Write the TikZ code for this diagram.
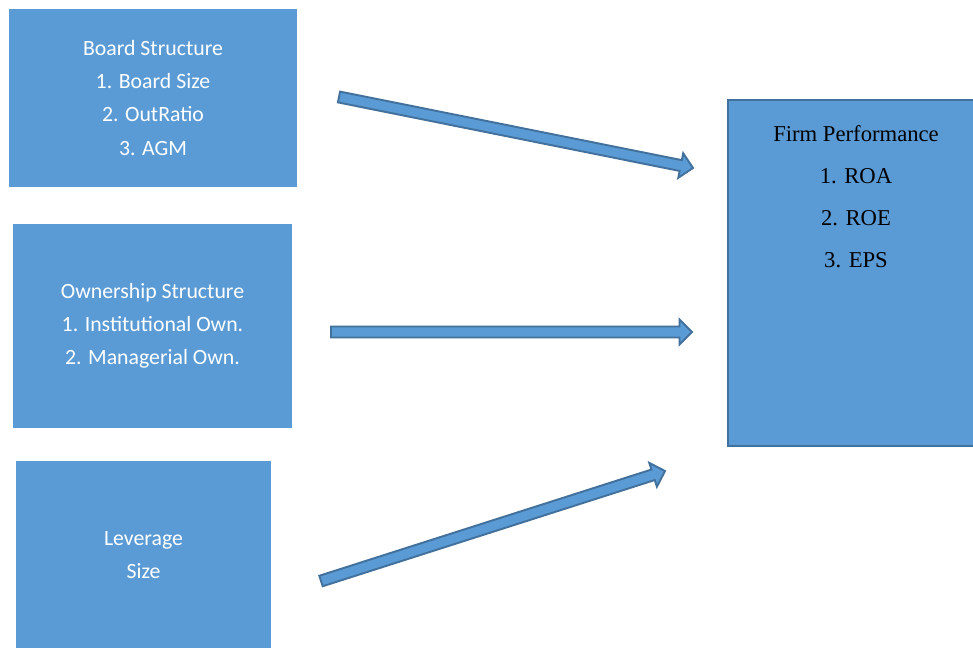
\documentclass[tikz,border=0pt]{standalone}
\usepackage{fontspec}
\setmainfont{Carlito}
\newfontfamily\timesfont{Liberation Serif}
\usetikzlibrary{calc}
\definecolor{BoxBlue}{HTML}{5B9BD5}
\definecolor{EdgeBlue}{HTML}{41719C}

\tikzset{
  inbox/.style={fill=BoxBlue, draw=none, text=white, align=center,
    font=\fontsize{12.4}{18.8}\selectfont, inner sep=0pt},
  perfbox/.style={fill=BoxBlue, draw=EdgeBlue, line width=1.4pt},
  perfline/.style={align=center, font=\timesfont\fontsize{12.9}{23.9}\selectfont,
    inner sep=0pt, anchor=north},
  arrowbody/.style={fill=BoxBlue, draw=EdgeBlue, line width=1.1pt, line join=miter}
}

% block arrow from #1 (tail) to #2 (tip)
\newcommand{\fatarrow}[2]{%
  \coordinate (hb) at ($(#2)!0.25cm!(#1)$);
  \draw[arrowbody] ($(#1)!0.11cm!90:(#2)$) -- ($(hb)!0.11cm!-90:(#1)$)
    -- ($(hb)!0.25cm!-90:(#1)$) -- (#2) -- ($(hb)!0.25cm!90:(#1)$)
    -- ($(hb)!0.11cm!90:(#1)$) -- ($(#1)!0.11cm!-90:(#2)$) -- cycle;}

\begin{document}
\begin{tikzpicture}[x=0.02cm, y=-0.02cm]
    \useasboundingbox (0,0) rectangle (973,648);
    \clip (0,0) rectangle (973,648);
    \fill[white] (0,0) rectangle (973,648);

    \node[inbox, minimum width=5.76cm, minimum height=3.58cm] (board) at (153,98)
      {Board Structure\\1. Board Size\\2. OutRatio\\3. AGM};
    \node[inbox, minimum width=5.58cm, minimum height=4.08cm] (owner) at (152.5,326)
      {Ownership Structure\\1. Institutional Own.\\2. Managerial Own.};
    \node[inbox, minimum width=5.10cm, minimum height=3.78cm] (lever) at (143.5,555)
      {Leverage\\Size};

    \node[perfbox, minimum width=5.12cm, minimum height=6.92cm] (perf) at (856,273) {};
    \node[perfline] (perftext) at (856,125)
      {Firm Performance\\1. ROA\\2. ROE\\3. EPS};

    \coordinate (boardtail) at (339,97);
    \coordinate (boardtip) at (693,168);
    \coordinate (ownertail) at (331,332);
    \coordinate (ownertip) at (692,332);
    \coordinate (levertail) at (321,581);
    \coordinate (levertip) at (665,471);
    \fatarrow{boardtail}{boardtip}
    \fatarrow{ownertail}{ownertip}
    \fatarrow{levertail}{levertip}
  \end{tikzpicture}
\end{document}
